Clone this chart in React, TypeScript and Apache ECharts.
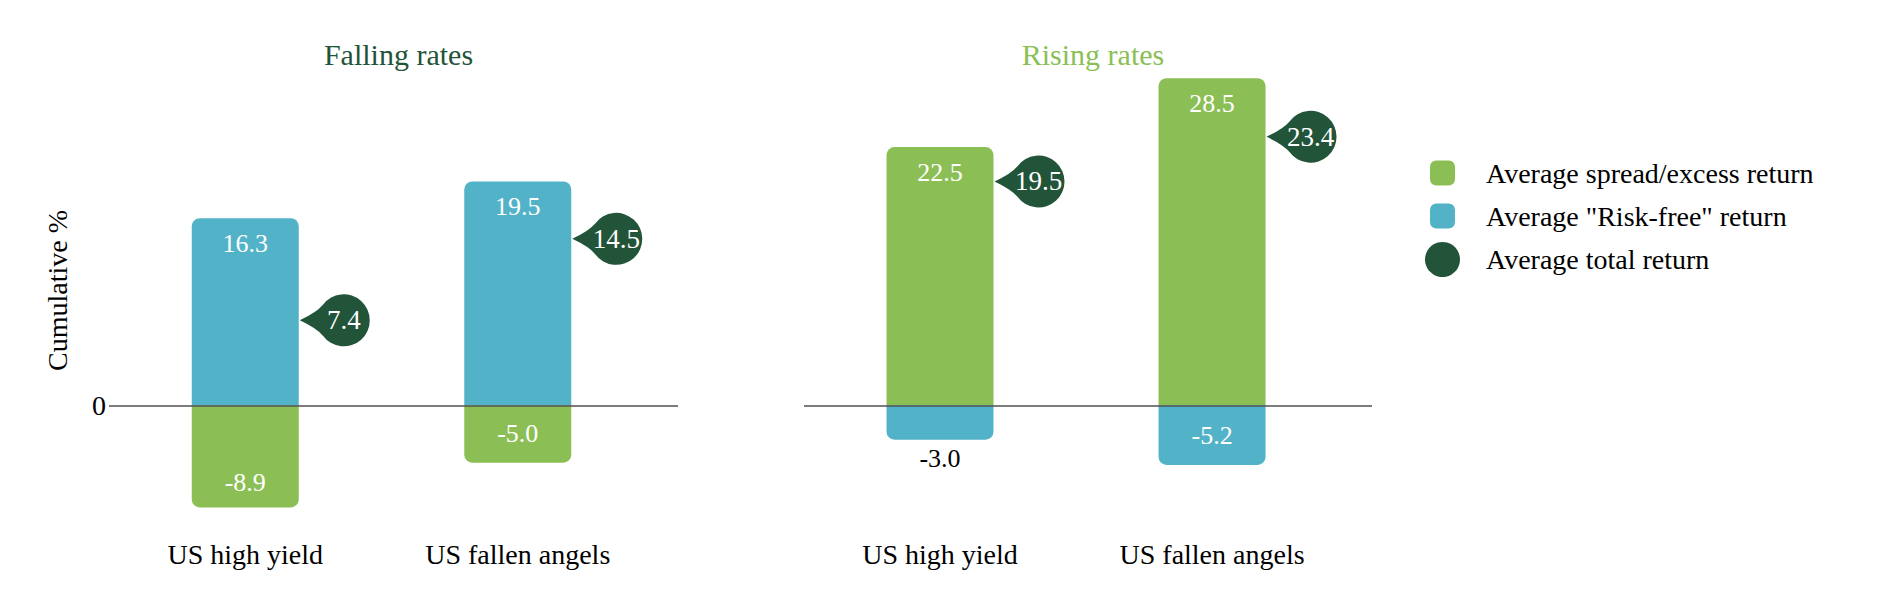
import React, { useEffect, useRef } from 'react';
import * as echarts from 'echarts';

// ---- data ----
const CATEGORIES = ['US high yield', 'US fallen angels'];
const PANEL_TITLES = ['Falling rates', 'Rising rates'];

const SERIES_SPREAD = 'Average spread/excess return';
const SERIES_RISK_FREE = 'Average "Risk-free" return';
const SERIES_TOTAL = 'Average total return';

const FALLING_SPREAD = [-8.9, -5.0];
const FALLING_RISK_FREE = [16.3, 19.5];
const FALLING_TOTAL = [7.4, 14.5];

const RISING_SPREAD = [22.5, 28.5];
const RISING_RISK_FREE = [-3.0, -5.2];
const RISING_TOTAL = [19.5, 23.4];

const Y_LABEL_VALUES = [0];
const Y_NAME = 'Cumulative %';

// ---- style ----
const GREEN = '#8bbf55';
const BLUE = '#52b3c8';
const DARK = '#22543a';
const SERIF = '"Liberation Serif", "Times New Roman", serif';
const BAR_WIDTH = 107;
const PIN_R = 26;
const PIN_OFFSET = 45;

const barItem = (x: number, v: number) => {
  const mag = Math.abs(v);
  let label: any;
  if (mag < 4) {
    label = { position: v < 0 ? 'bottom' : 'top', color: '#000', distance: 6 };
  } else if (mag < 6) {
    label = { position: 'inside' };
  } else {
    label = { position: v < 0 ? 'insideBottom' : 'insideTop', distance: 12 };
  }
  return {
    value: [x, v],
    itemStyle: { borderRadius: v < 0 ? [0, 0, 8, 8] : [8, 8, 0, 0] },
    label,
  };
};

const barSeries = (name: string, color: string, values: number[], gridIdx: number, withZeroLine: boolean) => ({
  type: 'bar',
  name,
  xAxisIndex: gridIdx,
  yAxisIndex: gridIdx,
  stack: 'panel' + gridIdx,
  barWidth: BAR_WIDTH,
  itemStyle: { color },
  label: {
    show: true,
    color: '#fff',
    fontSize: 26,
    fontFamily: SERIF,
    formatter: (p: any) => Number(p.value[1]).toFixed(1),
  },
  data: values.map((v, i) => barItem(i, v)),
  markLine: withZeroLine
    ? {
        silent: true,
        symbol: 'none',
        label: { show: false },
        lineStyle: { color: '#505050', width: 1.5, type: 'solid' },
        emphasis: { disabled: true },
        data: [{ yAxis: 0 }],
        z: 10,
      }
    : undefined,
});

// Round "speech bubble" marker pointing left at the bar's right edge.
const renderPin = (_params: any, api: any) => {
  const x = api.value(0);
  const v = api.value(1);
  const [px, py] = api.coord([x, v]);
  const edge = px + BAR_WIDTH / 2;
  const cx = edge + PIN_OFFSET;
  const cy = py;
  const a = (36 * Math.PI) / 180;
  const jx = cx - PIN_R * Math.cos(a);
  const jy = PIN_R * Math.sin(a);
  const tipX = edge + 1;
  const d =
    `M ${tipX} ${cy} Q ${cx - 27} ${cy - 8} ${jx} ${cy - jy} ` +
    `A ${PIN_R} ${PIN_R} 0 1 1 ${jx} ${cy + jy} ` +
    `Q ${cx - 27} ${cy + 8} ${tipX} ${cy} Z`;
  return {
    type: 'group',
    children: [
      { type: 'path', shape: { pathData: d }, style: { fill: DARK } },
      {
        type: 'text',
        x: cx,
        y: cy,
        style: {
          text: Number(v).toFixed(1),
          fill: '#fff',
          fontSize: 27,
          fontFamily: SERIF,
          align: 'center',
          verticalAlign: 'middle',
        },
      },
    ],
  };
};

const pinSeries = (values: number[], gridIdx: number) => ({
  type: 'custom',
  name: SERIES_TOTAL,
  xAxisIndex: gridIdx,
  yAxisIndex: gridIdx,
  itemStyle: { color: DARK },
  encode: { x: 0, y: 1 },
  renderItem: renderPin,
  z: 5,
  data: values.map((v, i) => [i, v]),
});

const xAxisFor = (gridIdx: number) => ({
  type: 'value',
  gridIndex: gridIdx,
  min: -0.5,
  max: 1.588,
  axisLine: { show: false },
  axisTick: { show: false },
  splitLine: { show: false },
  axisLabel: {
    customValues: [0, 1],
    formatter: (v: number) => CATEGORIES[Math.round(v)] ?? '',
    fontSize: 28,
    color: '#000',
    fontFamily: SERIF,
    margin: 20,
  },
});

const yAxisFor = (gridIdx: number) => ({
  type: 'value',
  gridIndex: gridIdx,
  min: -10,
  max: 30,
  axisLine: { show: false },
  axisTick: { show: false },
  splitLine: { show: false },
  name: gridIdx === 0 ? Y_NAME : '',
  nameLocation: 'middle',
  nameGap: 38,
  nameTextStyle: { fontSize: 28, color: '#000', fontFamily: SERIF },
  axisLabel: {
    show: gridIdx === 0,
    customValues: Y_LABEL_VALUES,
    fontSize: 28,
    color: '#000',
    fontFamily: SERIF,
    margin: 3,
  },
});

export default function App() {
  const ref = useRef<HTMLDivElement>(null);

  useEffect(() => {
    if (!ref.current) return;
    const chart = echarts.init(ref.current, null, { renderer: 'svg' });
    chart.setOption({
      animation: false,
      backgroundColor: '#fff',
      textStyle: { fontFamily: SERIF },
      title: [
        {
          text: PANEL_TITLES[0],
          left: 393.5,
          top: 34,
          textAlign: 'center',
          textStyle: { fontSize: 30, fontWeight: 'normal', color: DARK, fontFamily: SERIF },
        },
        {
          text: PANEL_TITLES[1],
          left: 1088,
          top: 34,
          textAlign: 'center',
          textStyle: { fontSize: 30, fontWeight: 'normal', color: GREEN, fontFamily: SERIF },
        },
      ],
      legend: [
        {
          data: [SERIES_SPREAD, SERIES_RISK_FREE],
          orient: 'vertical',
          left: 1430,
          top: 159,
          padding: 0,
          itemWidth: 25,
          itemHeight: 25,
          itemGap: 15,
          icon: 'roundRect',
          selectedMode: false,
          textStyle: { fontSize: 28, color: '#000', fontFamily: SERIF, padding: [0, 0, 0, 26] },
        },
        {
          data: [SERIES_TOTAL],
          orient: 'vertical',
          left: 1425,
          top: 242,
          padding: 0,
          itemWidth: 35,
          itemHeight: 35,
          icon: 'circle',
          selectedMode: false,
          textStyle: { fontSize: 28, color: '#000', fontFamily: SERIF, padding: [0, 0, 0, 21] },
        },
      ],
      grid: [
        { left: 109, top: 61, width: 569, height: 459 },
        { left: 804, top: 61, width: 568, height: 459 },
      ],
      xAxis: [xAxisFor(0), xAxisFor(1)],
      yAxis: [yAxisFor(0), yAxisFor(1)],
      series: [
        barSeries(SERIES_SPREAD, GREEN, FALLING_SPREAD, 0, true),
        barSeries(SERIES_RISK_FREE, BLUE, FALLING_RISK_FREE, 0, false),
        pinSeries(FALLING_TOTAL, 0),
        barSeries(SERIES_SPREAD, GREEN, RISING_SPREAD, 1, true),
        barSeries(SERIES_RISK_FREE, BLUE, RISING_RISK_FREE, 1, false),
        pinSeries(RISING_TOTAL, 1),
      ],
    });
    return () => chart.dispose();
  }, []);

  return (
    <div
      ref={ref}
      style={{ position: 'absolute', left: 0, top: 0, width: 1880, height: 590, background: '#fff' }}
    />
  );
}
